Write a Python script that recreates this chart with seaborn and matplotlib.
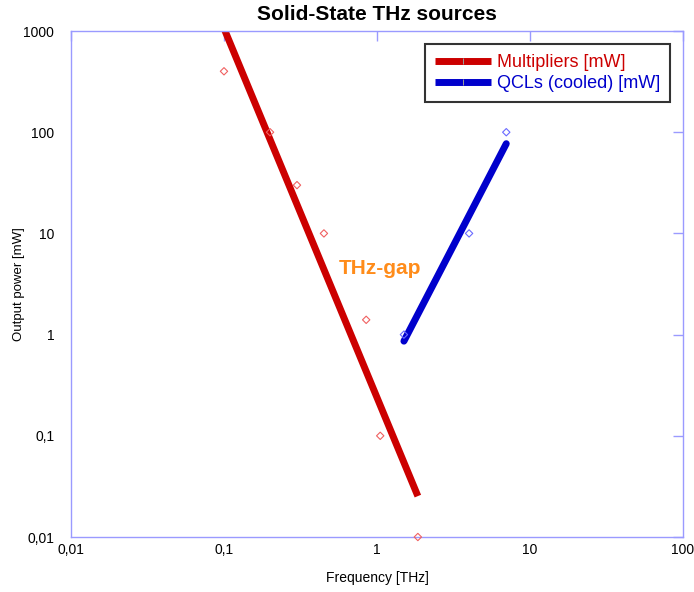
import matplotlib
matplotlib.use("Agg")
import matplotlib.pyplot as plt
from matplotlib.ticker import FixedLocator, FuncFormatter, NullLocator
import numpy as np
import pandas as pd
import seaborn as sns

# data
mult_freq = [0.1, 0.2, 0.3, 0.45, 0.85, 1.05, 1.85]      # THz
mult_power = [400, 100, 30, 10, 1.4, 0.1, 0.01]           # mW
qcl_freq = [1.5, 4.0, 7.0]
qcl_power = [1.0, 10, 100]

x_ticks = [0.01, 0.1, 1, 10, 100]
y_ticks = [0.01, 0.1, 1, 10, 100, 1000]

RED = "#cc0000"
BLUE = "#0000cc"
AXC = "#9a9aff"

sns.set_style("white")
plt.rcParams["font.family"] = ["Liberation Sans", "DejaVu Sans"]
plt.rcParams["text.color"] = "black"
plt.rcParams["axes.labelcolor"] = "black"


def power_fit(x, y):
    # least squares fit in log-log space (excel style power trendline)
    b, a = np.polyfit(np.log10(x), np.log10(y), 1)
    xs = np.array([min(x), max(x)])
    return pd.DataFrame({"x": xs, "y": 10 ** (a + b * np.log10(xs))})


fig = plt.figure(figsize=(6.94, 5.92), dpi=100)
ax = fig.add_axes([0.1023, 0.0929, 0.8818, 0.8547])
ax.set_xscale("log")
ax.set_yscale("log")

mfit = power_fit(mult_freq, mult_power)
qfit = power_fit(qcl_freq, qcl_power)

sns.lineplot(data=mfit, x="x", y="y", ax=ax, color=RED, lw=5,
             solid_capstyle="butt", label="Multipliers [mW]")
sns.lineplot(data=qfit, x="x", y="y", ax=ax, color=BLUE, lw=5,
             solid_capstyle="round", label="QCLs (cooled) [mW]")

sns.scatterplot(x=mult_freq, y=mult_power, ax=ax, marker="D", s=14,
                facecolor="none", edgecolor="#f06060", linewidth=0.8,
                clip_on=False, zorder=5)
sns.scatterplot(x=qcl_freq, y=qcl_power, ax=ax, marker="D", s=14,
                facecolor="none", edgecolor="#6a6aff", linewidth=0.8,
                clip_on=False, zorder=5)

ax.set_xlim(0.01, 100)
ax.set_ylim(0.01, 1000)

fmt = FuncFormatter(lambda v, p: ("%g" % v).replace(".", ","))
ax.xaxis.set_major_locator(FixedLocator(x_ticks))
ax.yaxis.set_major_locator(FixedLocator(y_ticks))
ax.xaxis.set_minor_locator(NullLocator())
ax.yaxis.set_minor_locator(NullLocator())
ax.xaxis.set_major_formatter(fmt)
ax.yaxis.set_major_formatter(fmt)
ax.tick_params(which="major", direction="in", length=7, width=1, color=AXC,
               labelsize=10, labelcolor="black", top=True, right=True)
ax.tick_params(axis="x", pad=4)
ax.tick_params(axis="y", pad=12)
for s in ax.spines.values():
    s.set_visible(True)
    s.set_color(AXC)
    s.set_linewidth(1)

ax.set_xlabel("Frequency [THz]", fontsize=10)
ax.set_ylabel("Output power [mW]", fontsize=9.5)
ax.xaxis.set_label_coords(0.5, -0.068)
ax.yaxis.set_label_coords(-0.075, 0.5)
ax.set_title("Solid-State THz sources", fontsize=15, fontweight="bold",
             pad=8, color="black")

ax.text(1.05, 4.5, "THz-gap", color="#ff8c1a", fontsize=15,
        fontweight="bold", ha="center", va="center")

leg = ax.legend(loc="upper right", bbox_to_anchor=(0.979, 0.974),
                fontsize=13, frameon=True, fancybox=False,
                handlelength=3.1, handletextpad=0.35, borderpad=0.55,
                labelspacing=0.22, borderaxespad=0)
leg.get_frame().set_edgecolor("black")
leg.get_frame().set_linewidth(1.5)
for txt, c in zip(leg.get_texts(), [RED, BLUE]):
    txt.set_color(c)
for ln in leg.get_lines():
    ln.set_marker("|")
    ln.set_markersize(5)
    ln.set_markeredgecolor("#999999")
    ln.set_solid_capstyle("butt")

fig.savefig("out.png", dpi=100)
